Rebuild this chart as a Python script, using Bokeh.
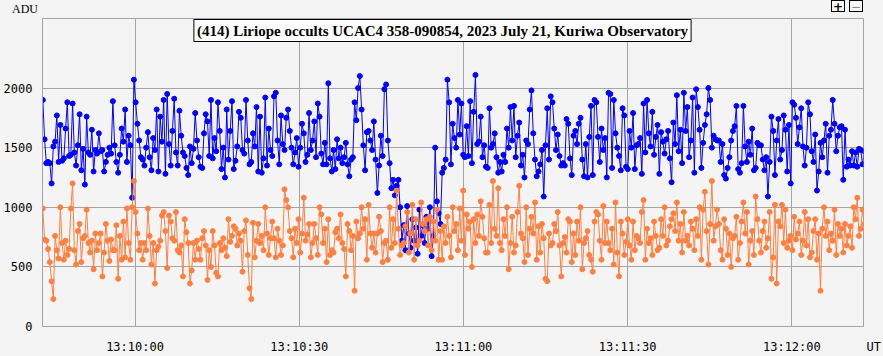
from bokeh.plotting import figure
from bokeh.layouts import column
from bokeh.models import Range1d, FixedTicker, Label, Div
from bokeh.embed import file_html
from bokeh.resources import INLINE

TITLE = "(414) Liriope occults UCAC4 358-090854, 2023 July 21, Kuriwa Observatory"
Y_LABEL = "ADU"
X_LABEL = "UT"

# sample times: seconds after 13:00:00 UT
T_START = 583.15
T_STEP = 0.32

# target star + asteroid (blue), comparison star (orange), ADU
blue = [
    1900, 1570, 1370, 1380, 1370, 1200, 1510, 1550, 1770, 1380,
    1690, 1390, 1410, 1660, 1880, 1430, 1440, 1870, 1460, 1350,
    1520, 1780, 1310, 1490, 1190, 1760, 1460, 1440, 1650, 1300,
    1480, 1450, 1620, 1470, 1480, 1300, 1380, 1440, 1500, 1450,
    1890, 1520, 1380, 1290, 1440, 1660, 1550, 1820, 1380, 1600,
    1520, 1080, 2070, 1880, 1700, 1560, 1420, 1400, 1350, 1500,
    1630, 1420, 1310, 1580, 1480, 1820, 1300, 1760, 1550, 1900,
    1280, 1950, 1530, 1350, 1640, 1910, 1460, 1350, 1810, 1600,
    1460, 1430, 1330, 1270, 1510, 1370, 1490, 1790, 1560, 1420,
    1340, 1330, 1620, 1780, 1720, 1430, 1900, 1410, 1580, 1470,
    1880, 1640, 1320, 1500, 1250, 1820, 1400, 1640, 1890, 1320,
    1390, 1510, 1800, 1750, 1480, 1450, 1900, 1560, 1360, 1380,
    1620, 1510, 1840, 1300, 1760, 1290, 1410, 1920, 1350, 1660,
    1480, 1430, 1930, 1960, 1560, 1360, 1770, 1530, 1480, 1750,
    1820, 1640, 1500, 1360, 1460, 1580, 1340, 1500, 1700, 1620,
    1380, 1440, 1790, 1480, 1560, 1720, 1420, 1870, 1760, 1450,
    1360, 1540, 1360, 2040, 1410, 1300, 1480, 1320, 1570, 1410,
    1500, 1370, 1420, 1540, 1360, 1260, 1400, 1420, 1880, 1730,
    2000, 2100, 1820, 1520, 1310, 1630, 1640, 1560, 1480, 1720,
    1400, 1120, 1350, 1600, 1430, 1990, 2030, 1560, 1370, 1160,
    1230, 1100, 1180, 1230, 1000, 720, 850, 640, 1010, 780,
    660, 900, 720, 830, 610, 980, 760, 850, 700, 920,
    820, 1000, 590, 760, 1500, 1050, 950, 860, 1290, 1330,
    1400, 2070, 1880, 1360, 1700, 1580, 1500, 1900, 1610, 1870,
    1440, 1420, 1680, 1430, 1890, 1370, 1800, 2110, 1530, 1550,
    1760, 1420, 1520, 1340, 1330, 1830, 1500, 1530, 1620, 1420,
    1290, 1380, 1300, 1440, 1380, 1660, 1500, 1840, 1560, 1850,
    1420, 1600, 1710, 1350, 1440, 1250, 1560, 1530, 1820, 1980,
    1620, 1400, 1260, 1300, 1360, 1480, 1090, 1520, 1830, 1400,
    1930, 1880, 1660, 1480, 1610, 1430, 1350, 1370, 1350, 1740,
    1700, 1410, 1270, 1600, 1640, 1530, 1700, 1750, 1400, 1260,
    1530, 1250, 1590, 1850, 1270, 1900, 1880, 1590, 1380, 1660,
    1480, 1580, 1250, 1960, 1950, 1330, 1900, 1620, 1500, 1430,
    1310, 1830, 1770, 1340, 1320, 1640, 1500, 1790, 1320, 1520,
    1530, 1580, 1280, 1870, 1460, 1900, 1620, 1510, 1800, 1440,
    1590, 1690, 1280, 1630, 1550, 1450, 1570, 1640, 1410, 1210,
    1710, 1530, 1940, 1470, 1650, 1370, 1960, 1640, 1840, 1420,
    1560, 1920, 1290, 1990, 1840, 1650, 1330, 1540, 1690, 1780,
    2000, 1900, 1500, 1600, 1570, 1560, 1560, 1380, 1530, 1270,
    1240, 1330, 1420, 1560, 1640, 1680, 1850, 1320, 1290, 1370,
    1850, 1510, 1380, 1550, 1440, 1660, 1310, 1330, 1540, 1520,
    1520, 1400, 1310, 1420, 1090, 1380, 1760, 1640, 1270, 1560,
    1740, 1400, 1480, 1770, 1650, 1300, 1690, 1200, 1880, 1860,
    1750, 1530, 1670, 1830, 1510, 1350, 1500, 1880, 1780, 1470,
    1380, 1610, 1140, 1300, 1540, 1420, 1560, 1700, 1290, 1600,
    1650, 1900, 1700, 1470, 1600, 1670, 1680, 1230, 1650, 1340,
    1400, 1350, 1470, 1350, 1460, 1340, 1490, 1480, 1360, 1470,
]

orange = [
    990, 730, 720, 650, 540, 380, 230, 760, 640, 570,
    1000, 700, 560, 720, 600, 650, 990, 1200, 640, 520,
    800, 860, 540, 740, 760, 980, 700, 620, 720, 480,
    780, 640, 700, 780, 420, 620, 860, 720, 550, 730,
    640, 640, 850, 400, 760, 560, 880, 580, 990, 700,
    560, 1000, 1220, 960, 780, 640, 700, 560, 700, 640,
    990, 760, 520, 700, 360, 640, 670, 720, 930, 960,
    800, 490, 930, 880, 740, 720, 960, 640, 620, 680,
    420, 900, 790, 700, 360, 470, 700, 560, 720, 650,
    560, 740, 800, 680, 390, 640, 500, 800, 680, 450,
    420, 700, 640, 740, 660, 590, 900, 710, 760, 840,
    820, 680, 780, 720, 460, 800, 890, 600, 320, 230,
    870, 580, 720, 860, 700, 760, 640, 1000, 780, 600,
    740, 880, 740, 580, 820, 720, 600, 680, 1150, 1060,
    1000, 800, 740, 580, 820, 700, 900, 620, 780, 1080,
    720, 770, 860, 580, 700, 860, 740, 600, 1000, 940,
    700, 820, 540, 900, 600, 640, 620, 790, 820, 740,
    940, 700, 650, 420, 860, 800, 640, 760, 300, 880,
    740, 780, 1000, 820, 900, 560, 1020, 780, 660, 780,
    620, 780, 920, 800, 540, 700, 720, 560, 1000, 660,
    900, 700, 1140, 820, 600, 680, 700, 840, 960, 620,
    780, 1020, 560, 900, 680, 720, 1040, 860, 800, 900,
    680, 920, 640, 880, 720, 980, 560, 800, 560, 840,
    700, 920, 760, 580, 1000, 800, 860, 640, 990, 720,
    1140, 600, 940, 820, 880, 500, 900, 700, 940, 760,
    1050, 920, 740, 620, 620, 1020, 700, 1220, 820, 760,
    1160, 700, 640, 900, 760, 1000, 480, 700, 920, 620,
    680, 960, 1180, 780, 740, 540, 1000, 600, 820, 920,
    780, 1040, 560, 840, 620, 860, 740, 400, 380, 780,
    680, 700, 860, 800, 960, 680, 420, 700, 750, 620,
    900, 880, 540, 780, 600, 880, 720, 1000, 480, 700,
    740, 800, 600, 560, 460, 880, 960, 940, 720, 560,
    1010, 700, 880, 700, 640, 820, 520, 1040, 620, 420,
    880, 780, 600, 710, 900, 680, 560, 880, 640, 760,
    740, 700, 960, 1060, 560, 820, 700, 740, 600, 880,
    760, 640, 660, 900, 760, 1000, 680, 720, 840, 900,
    950, 800, 1040, 720, 860, 620, 960, 720, 760, 680,
    880, 820, 640, 900, 760, 1000, 560, 980, 1130, 800,
    520, 860, 1220, 720, 840, 980, 860, 640, 560, 900,
    820, 600, 780, 500, 740, 760, 920, 560, 700, 880,
    1040, 780, 960, 520, 720, 800, 600, 1090, 900, 720,
    620, 800, 880, 660, 740, 960, 400, 580, 1020, 360,
    880, 840, 1020, 700, 980, 660, 720, 760, 640, 920,
    730, 780, 880, 600, 720, 960, 680, 900, 580, 620,
    800, 900, 560, 780, 300, 820, 1000, 760, 880, 640,
    780, 720, 980, 600, 860, 760, 820, 620, 860, 680,
    760, 840, 660, 1000, 900, 1080, 760, 820, 980, 860,
]

x_ticks = [600, 630, 660, 690, 720]
x_tick_labels = ["13:10:00", "13:10:30", "13:11:00", "13:11:30", "13:12:00"]
y_ticks = [0, 500, 1000, 1500, 2000]

X_MIN, X_MAX = 583.09, 733.09
t = [T_START + T_STEP * i for i in range(len(blue))]

BG = "#f4f4f4"
GRID = "#a4a4a4"

p = figure(width=883, height=338, output_backend="svg", toolbar_location=None,
           x_range=Range1d(X_MIN, X_MAX), y_range=Range1d(0, 2583),
           min_border_left=38, min_border_right=20, min_border_top=0, min_border_bottom=28,
           background_fill_color=BG, border_fill_color=BG,
           outline_line_color=GRID, outline_line_width=1)

for ax in (p.xaxis[0], p.yaxis[0]):
    ax.axis_line_color = GRID
    ax.major_tick_line_color = None
    ax.minor_tick_line_color = None
    ax.major_label_text_font = "DejaVu Sans Mono"
    ax.major_label_text_font_size = "12px"
    ax.major_label_text_color = "#000000"

# the time-axis unit "UT" sits at the right end of the time axis
ut_tick = 733.0
p.xaxis.ticker = FixedTicker(ticks=x_ticks + [ut_tick])
overrides = {tk: lb for tk, lb in zip(x_ticks, x_tick_labels)}
overrides[ut_tick] = "\u00a0\u00a0\u00a0" + X_LABEL
p.xaxis.major_label_overrides = overrides
p.xaxis.major_label_standoff = 7
p.yaxis.ticker = FixedTicker(ticks=y_ticks)
p.yaxis.major_label_standoff = 4

p.grid.grid_line_color = GRID
p.grid.grid_line_width = 1

p.line(t, blue, line_color="#0000ff", line_width=1)
p.scatter(t, blue, size=5, marker="circle", fill_color="#0000ff", line_color="#0000ff")
p.line(t, orange, line_color="#ff8040", line_width=1)
p.scatter(t, orange, size=5, marker="circle", fill_color="#ff8040", line_color="#ff8040")

p.add_layout(Label(x=400, y=296, x_units="screen", y_units="screen", text=TITLE,
                   text_align="center", text_baseline="middle",
                   text_font="Liberation Serif", text_font_style="bold", text_font_size="15px",
                   text_color="#000000", background_fill_color="#ffffff",
                   border_line_color="#000000", border_line_width=1, padding=3))

btn = ("position:absolute;top:0px;width:14px;height:12px;border:1px solid #000;"
       "background:#f8f8f8;font-family:'DejaVu Sans';font-size:12px;line-height:12px;"
       "text-align:center;")
top_html = (
    "<div style=\"position:relative;width:883px;height:18px;background:#f4f4f4;\">"
    "<span style=\"position:absolute;left:12px;top:3px;font-family:'Liberation Serif';"
    "font-size:12px;line-height:13px;color:#000;\">" + Y_LABEL + "</span>"
    "<span style=\"" + btn + "left:831px;font-weight:bold;color:#000;\">+</span>"
    "<span style=\"" + btn + "left:849px;color:#888;\">\u2212</span>"
    "</div>"
)
top = Div(text=top_html, width=883, height=18, margin=(0, 0, 0, 0))

layout = column(top, p, spacing=0)

html = file_html(layout, INLINE)
html = html.replace("</head>", "<style>html,body{margin:0;padding:0;background:#f4f4f4;overflow:hidden}</style></head>", 1)
open("out.html", "w").write(html)
